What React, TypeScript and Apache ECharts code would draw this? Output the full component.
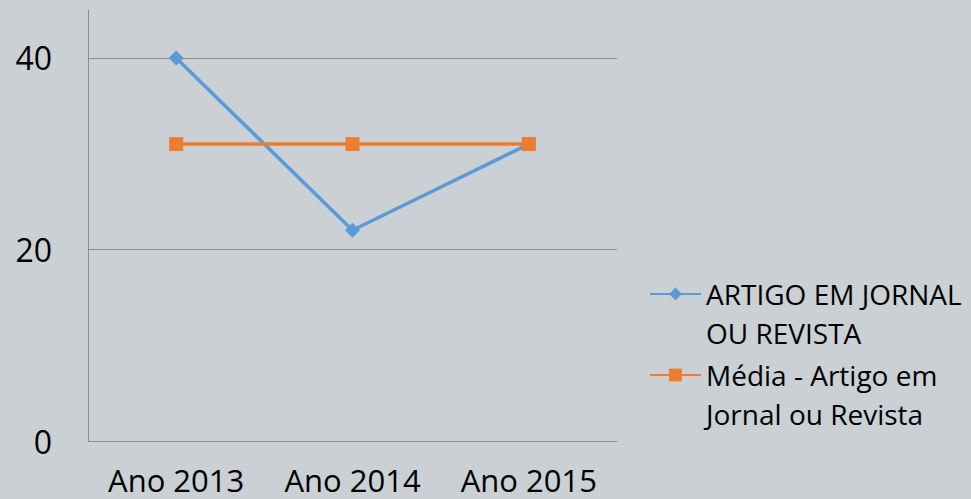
import React, { useEffect, useRef } from "react";
import * as echarts from "echarts";

const categories = ["Ano 2013", "Ano 2014", "Ano 2015"];
const artigoValues = [40, 22, 31];
const mediaValues = [31, 31, 31];
const seriesNames = ["ARTIGO EM JORNAL OU REVISTA", "Média - Artigo em Jornal ou Revista"];
const legendLines: Record<string, string> = {
  "ARTIGO EM JORNAL OU REVISTA": "\nARTIGO EM JORNAL\nOU REVISTA",
  "Média - Artigo em Jornal ou Revista": "\nMédia - Artigo em\nJornal ou Revista",
};

const FONT = "Open Sans";
const BLUE = "#5b9bd5";
const ORANGE = "#ed7d31";
const AXIS = "#8c8c8c";

export default function App() {
  const ref = useRef<HTMLDivElement>(null);
  useEffect(() => {
    if (!ref.current) return;
    const chart = echarts.init(ref.current, undefined, { renderer: "svg" });
    const legendCommon = {
      orient: "vertical" as const,
      left: 649,
      padding: 0,
      itemWidth: 51,
      itemHeight: 16,
      selectedMode: false,
      formatter: (n: string) => legendLines[n] || n,
      textStyle: { fontFamily: FONT, fontSize: 28, color: "#000", lineHeight: 39 },
    };
    chart.setOption({
      animation: false,
      backgroundColor: "#cbd0d4",
      grid: { left: 88, right: 354, top: 10, bottom: 58, containLabel: false },
      legend: [
        { ...legendCommon, top: 235.5, data: [seriesNames[0]] },
        { ...legendCommon, top: 316.5, data: [seriesNames[1]] },
      ],
      xAxis: {
        type: "category",
        data: categories,
        boundaryGap: true,
        axisLine: { lineStyle: { color: AXIS, width: 1 } },
        axisTick: { show: false },
        axisLabel: { fontFamily: FONT, fontSize: 31, color: "#000", margin: 23, interval: 0, lineHeight: 31 },
      },
      yAxis: {
        type: "value",
        min: 0,
        max: 45,
        interval: 20,
        axisLine: { show: true, lineStyle: { color: AXIS, width: 1 } },
        axisTick: { show: false },
        axisLabel: {
          fontFamily: FONT,
          fontSize: 32,
          color: "#000",
          margin: 36,
          formatter: (v: number) => (v === 45 ? "" : String(v)),
        },
        splitLine: { show: true, showMaxLine: false, lineStyle: { color: AXIS, width: 1 } },
      },
      series: [
        {
          name: seriesNames[0],
          type: "line",
          data: artigoValues,
          color: BLUE,
          lineStyle: { width: 3.5, color: BLUE },
          itemStyle: { color: BLUE },
          symbol: "diamond",
          symbolSize: 15,
        },
        {
          name: seriesNames[1],
          type: "line",
          data: mediaValues,
          color: ORANGE,
          lineStyle: { width: 3.5, color: ORANGE },
          itemStyle: { color: ORANGE },
          symbol: "rect",
          symbolSize: 14,
        },
      ],
    });
    return () => chart.dispose();
  }, []);
  return <div ref={ref} style={{ width: 971, height: 499, position: "absolute", left: 0, top: 0 }} />;
}
